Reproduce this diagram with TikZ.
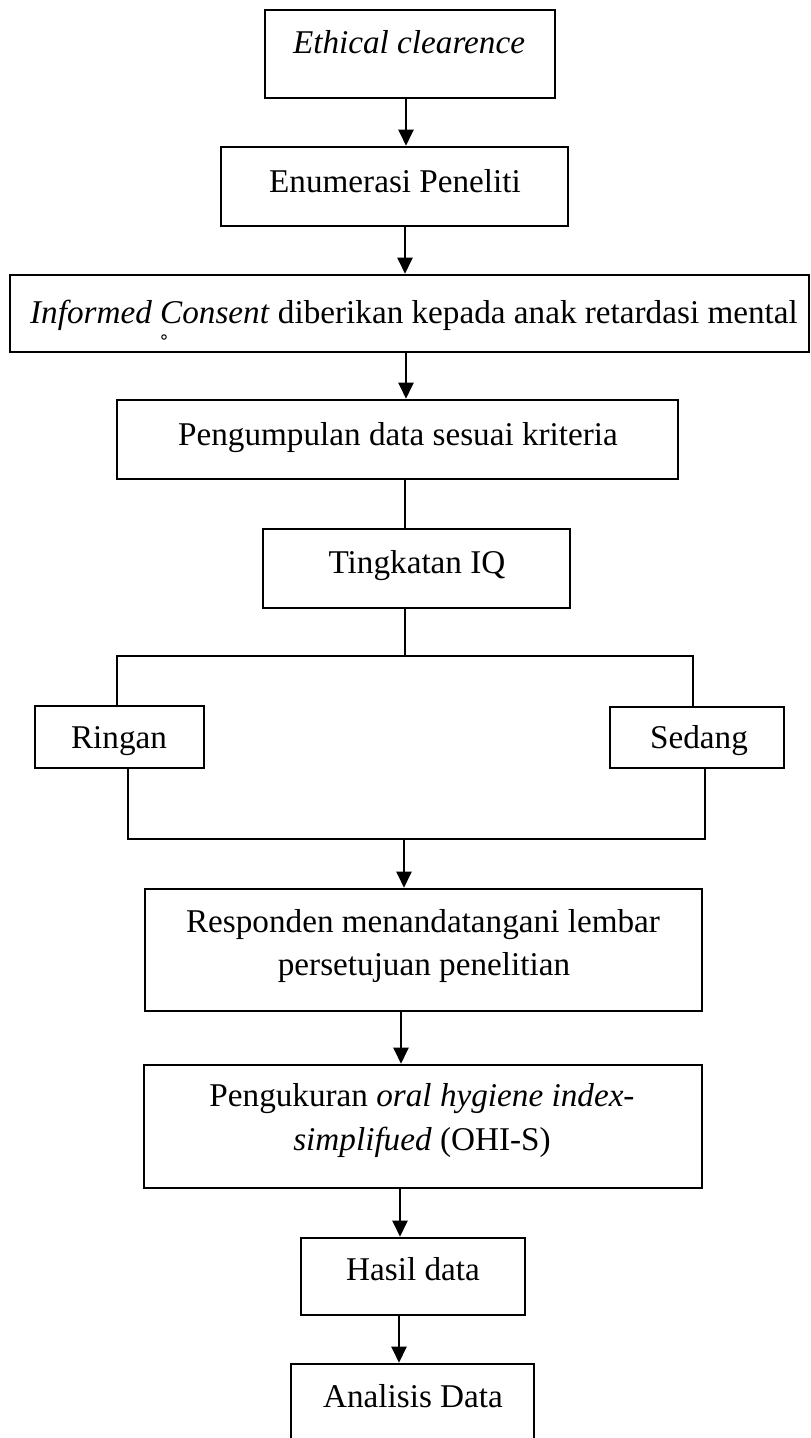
\documentclass[tikz,border=0pt]{standalone}
\usepackage{fontspec}
\setmainfont{Liberation Serif}
\usetikzlibrary{arrows.meta}
\begin{document}
\begin{tikzpicture}[x=1pt,y=-1pt,
  box/.style={draw, line width=2.6pt, inner sep=0pt},
  lbl/.style={inner sep=0pt, anchor=base, font=\fontsize{33.2}{43}\selectfont},
  conn/.style={line width=2.3pt},
  arr/.style={line width=2.3pt, -{Triangle[length=16pt,width=15pt]}},
  dot/.style={circle, draw, line width=1pt, fill=white, inner sep=0pt, minimum size=4.5pt}]
\useasboundingbox (0,0) rectangle (811,1438);
\fill[white] (0,0) rectangle (811,1438);
\clip (0,0) rectangle (811,1438);

% boxes
\node[box, minimum width=290pt, minimum height=88pt] (eth) at (410,54) {};
\node[box, minimum width=347pt, minimum height=79pt] (enum) at (394.5,186.5) {};
\node[box, minimum width=799pt, minimum height=77pt] (inf) at (409.5,313.5) {};
\node[box, minimum width=561pt, minimum height=79pt] (peng) at (397.5,439.5) {};
\node[box, minimum width=307pt, minimum height=79pt] (ting) at (416.5,568.5) {};
\node[box, minimum width=169pt, minimum height=62pt] (ring) at (119.5,737) {};
\node[box, minimum width=174pt, minimum height=61pt] (sed) at (697,737.5) {};
\node[box, minimum width=557pt, minimum height=122pt] (resp) at (423.5,950) {};
\node[box, minimum width=558pt, minimum height=123pt] (ohi) at (423,1126.5) {};
\node[box, minimum width=224pt, minimum height=77pt] (hasil) at (413,1276.5) {};
\node[box, minimum width=243pt, minimum height=100pt] (anal) at (412.5,1414) {};

% labels
\node[lbl] (teth) at (409,53) {\textit{Ethical clearence}};
\node[lbl] (tenum) at (395,192) {Enumerasi Peneliti};
\node[lbl] (tinf) at (414,323) {\textit{Informed Consent} diberikan kepada anak retardasi mental};
\node[dot] (speck) at (164,337) {};
\node[lbl] (tpeng) at (398,445) {Pengumpulan data sesuai kriteria};
\node[lbl] (tting) at (417,573) {Tingkatan IQ};
\node[lbl] (tring) at (119,748) {Ringan};
\node[lbl] (tsed) at (699,748) {Sedang};
\node[lbl] (tresp1) at (423,932) {Responden menandatangani lembar};
\node[lbl] (tresp2) at (424,975) {persetujuan penelitian};
\node[lbl] (tohi1) at (422,1106) {Pengukuran \textit{oral hygiene index-}};
\node[lbl] (tohi2) at (422,1150) {\textit{simplifued} (OHI-S)};
\node[lbl] (thasil) at (413,1280) {Hasil data};
\node[lbl] (tanal) at (413,1407) {Analisis Data};

% connector columns
\coordinate (x1) at (406,0);
\coordinate (x2) at (405,0);
\coordinate (x3) at (404,0);
\coordinate (x4) at (401,0);
\coordinate (x5) at (400,0);
\coordinate (x6) at (399,0);
\coordinate (xl1) at (117,0);
\coordinate (xr1) at (693,0);
\coordinate (xl2) at (128,0);
\coordinate (xr2) at (705,0);
\coordinate (bt) at (0,656);
\coordinate (bb) at (0,839);

% connectors
\draw[arr] (eth.south -| x1) -- (enum.north -| x1);
\draw[arr] (enum.south -| x2) -- (inf.north -| x2);
\draw[arr] (inf.south -| x1) -- (peng.north -| x1);
\draw[conn] (peng.south -| x2) -- (ting.north -| x2);
\draw[conn] (ting.south -| x2) -- (bt -| x2);
\draw[conn] (ring.north -| xl1) |- (bt -| xr1) -- (sed.north -| xr1);
\draw[conn] (ring.south -| xl2) |- (bb -| xr2) -- (sed.south -| xr2);
\draw[arr] (bb -| x3) -- (resp.north -| x3);
\draw[arr] (resp.south -| x4) -- (ohi.north -| x4);
\draw[arr] (ohi.south -| x5) -- (hasil.north -| x5);
\draw[arr] (hasil.south -| x6) -- (anal.north -| x6);
\end{tikzpicture}
\end{document}
